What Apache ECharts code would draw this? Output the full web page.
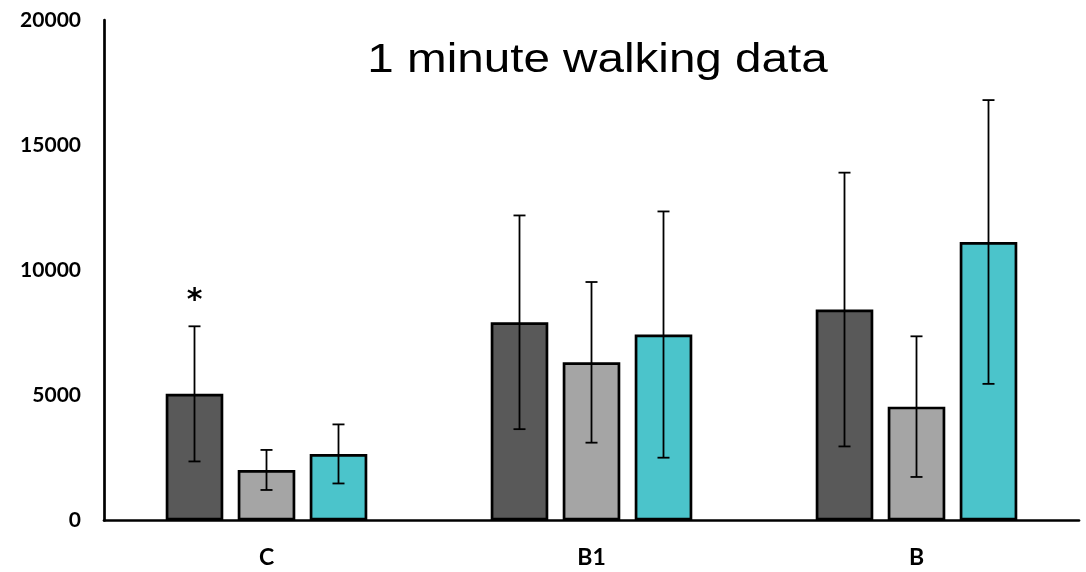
<!DOCTYPE html>
<html>
<head>
<meta charset="utf-8">
<script src="https://cdn.jsdelivr.net/npm/echarts@6/dist/echarts.min.js"></script>
<style>
  html, body { margin: 0; padding: 0; background: #ffffff; }
  #chart { width: 1086px; height: 572px; }
</style>
</head>
<body>
<div id="chart"></div>
<script>
// Groups along the x axis
const categories = ['C', 'B1', 'B'];

// Mean values per group for the three conditions
const darkMeans = [5060, 7920, 8430];
const greyMeans = [2020, 6320, 4550];
const tealMeans = [2660, 7430, 11130];

// Error bar half-lengths (same order as the means)
const darkErr = [2700, 4270, 5470];
const greyErr = [800, 3210, 2810];
const tealErr = [1180, 4920, 5670];

// Significance markers drawn above the error bars
const darkMarks = ['*', '', ''];
const greyMarks = ['', '', ''];
const tealMarks = ['', '', ''];

// Y axis ticks
const yTicks = [0, 5000, 10000, 15000, 20000];

const titleText = '1 minute walking data';

const BAR_W = 57.6;
const GAP = 0.25;
const colors = ['#595959', '#a5a5a5', '#4bc4cb'];

const chart = echarts.init(document.getElementById('chart'), null, { renderer: 'canvas' });

function barSeries(values, color) {
  return {
    type: 'bar',
    data: values,
    barWidth: BAR_W,
    barGap: (GAP * 100) + '%',
    itemStyle: { color: color, borderColor: '#000000', borderWidth: 2.7 },
    emphasis: { disabled: true },
    silent: true,
    z: 2
  };
}

function errSeries(means, errs, marks, index) {
  const data = means.map((m, i) => [i, m - errs[i], m + errs[i], marks[i]]);
  return {
    type: 'custom',
    silent: true,
    z: 5,
    data: data,
    encode: { x: 0, y: [1, 2] },
    renderItem: function (params, api) {
      const cat = api.value(0);
      const lo = api.coord([cat, api.value(1)]);
      const hi = api.coord([cat, api.value(2)]);
      const offset = (index - 1) * BAR_W * (1 + GAP);
      const x = lo[0] + offset;
      const cap = 6;
      const lineStyle = { stroke: '#000000', lineWidth: 1.8 };
      const children = [
        { type: 'line', shape: { x1: x, y1: hi[1], x2: x, y2: lo[1] }, style: lineStyle },
        { type: 'line', shape: { x1: x - cap, y1: hi[1], x2: x + cap, y2: hi[1] }, style: lineStyle },
        { type: 'line', shape: { x1: x - cap, y1: lo[1], x2: x + cap, y2: lo[1] }, style: lineStyle }
      ];
      const mark = data[params.dataIndex][3];
      if (mark) {
        children.push({
          type: 'text',
          style: {
            text: mark,
            x: x,
            y: hi[1] - 25,
            align: 'center',
            verticalAlign: 'middle',
            font: 'bold 30px "DejaVu Sans", sans-serif',
            fill: '#000000'
          }
        });
      }
      return { type: 'group', children: children };
    }
  };
}

const option = {
  animation: false,
  backgroundColor: '#ffffff',
  grid: { left: 104, right: 7, top: 20, bottom: 51.5, containLabel: false },
  graphic: [{
    type: 'text',
    x: 597.5,
    y: 41,
    scaleX: 1.19,
    style: {
      text: titleText,
      align: 'center',
      verticalAlign: 'top',
      font: 'normal 40px "Liberation Sans", Arial, sans-serif',
      fill: '#000000'
    },
    z: 10
  }],
  xAxis: {
    type: 'category',
    data: categories,
    axisLine: { lineStyle: { color: '#000000', width: 2.7 } },
    axisTick: { show: false },
    axisLabel: {
      color: '#000000',
      fontFamily: 'Lato, "Open Sans", sans-serif',
      fontWeight: 'bold',
      fontSize: 23,
      margin: 26
    },
    splitLine: { show: false }
  },
  yAxis: {
    type: 'value',
    min: yTicks[0],
    max: yTicks[yTicks.length - 1],
    interval: yTicks[1] - yTicks[0],
    axisLine: { show: true, lineStyle: { color: '#000000', width: 2.7 } },
    axisTick: { show: false },
    splitLine: { show: false },
    axisLabel: {
      color: '#000000',
      fontFamily: 'Lato, "Open Sans", sans-serif',
      fontWeight: 'bold',
      fontSize: 21,
      margin: 23,
      formatter: function (v) { return String(v); }
    }
  },
  series: [
    barSeries(darkMeans, colors[0]),
    barSeries(greyMeans, colors[1]),
    barSeries(tealMeans, colors[2]),
    errSeries(darkMeans, darkErr, darkMarks, 0),
    errSeries(greyMeans, greyErr, greyMarks, 1),
    errSeries(tealMeans, tealErr, tealMarks, 2)
  ]
};

chart.setOption(option);
</script>
</body>
</html>
